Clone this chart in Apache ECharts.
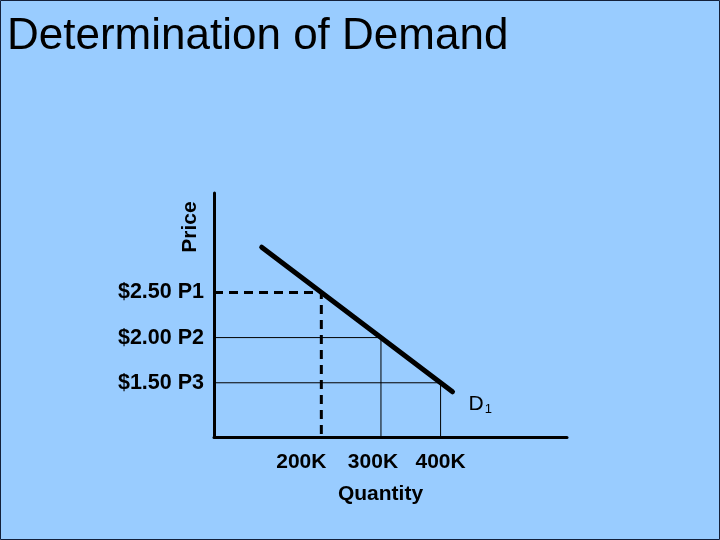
<!DOCTYPE html>
<html>
<head>
<meta charset="utf-8">
<script src="https://cdn.jsdelivr.net/npm/echarts@6/dist/echarts.min.js"></script>
<style>
    html, body { margin: 0; padding: 0; }
    #chart { width: 720px; height: 540px; }
</style>
</head>
<body>
<div id="chart"></div>
<script>
// values (quantity in K, price in $)
const priceTicks = [1.5, 2.0, 2.5];
const priceLabels = ['$1.50 P3', '$2.00 P2', '$2.50 P1'];
const qtyTicks = [200, 300, 400];
const qtyLabels = ['200K', '300K', '400K'];
const demand = [[100, 3.0], [420, 1.4]];
const guideP1 = [[20, 2.5], [200, 2.5], [200, 0.9]];
const guideP2 = [[20, 2.0], [300, 2.0], [300, 0.9]];
const guideP3 = [[20, 1.5], [400, 1.5], [400, 0.9]];

const font = 'Liberation Sans, Arial, sans-serif';
// shift some x labels left (as in the slide)
const qtyPad = { 200: 40, 300: 16, 400: 0 };

let chart = echarts.init(document.getElementById('chart'));
chart.setOption({
    animation: false,
    backgroundColor: '#99ccff',
    title: {
        text: 'Determination of Demand',
        left: 2,
        top: 10,
        textStyle: { fontFamily: font, fontSize: 44, fontWeight: 'normal', color: '#000' }
    },
    grid: { left: 214, top: 193, right: 153, bottom: 103 },
    xAxis: {
        type: 'value',
        min: 20,
        max: 612,
        splitLine: { show: false },
        axisTick: { show: false },
        axisLine: { lineStyle: { color: '#000', width: 3 } },
        axisLabel: {
            customValues: qtyTicks,
            margin: 15,
            color: '#000',
            fontFamily: font,
            fontSize: 21,
            fontWeight: 'bold',
            formatter: function (v) {
                let i = qtyTicks.indexOf(v);
                return '{p' + v + '|' + qtyLabels[i] + '}';
            },
            rich: {
                p200: { padding: [0, qtyPad[200], 0, 0], fontFamily: font, fontSize: 21, fontWeight: 'bold' },
                p300: { padding: [0, qtyPad[300], 0, 0], fontFamily: font, fontSize: 21, fontWeight: 'bold' },
                p400: { padding: [0, qtyPad[400], 0, 0], fontFamily: font, fontSize: 21, fontWeight: 'bold' }
            }
        },
        name: 'Quantity',
        nameLocation: 'middle',
        nameGap: 47,
        nameTextStyle: { color: '#000', fontFamily: font, fontSize: 21, fontWeight: 'bold', padding: [0, 20, 0, 0] }
    },
    yAxis: {
        type: 'value',
        min: 0.9,
        max: 3.6,
        splitLine: { show: false },
        axisTick: { show: false },
        axisLine: { lineStyle: { color: '#000', width: 3 } },
        axisLabel: {
            customValues: priceTicks,
            margin: 10,
            color: '#000',
            fontFamily: font,
            fontSize: 21.5,
            fontWeight: 'bold',
            formatter: function (v) {
                return priceLabels[priceTicks.indexOf(v)];
            }
        }
    },
    graphic: [
        {
            type: 'text',
            x: 190,
            y: 227,
            rotation: Math.PI / 2,
            style: {
                text: 'Price',
                font: 'bold 21px ' + font,
                fill: '#000',
                align: 'center',
                verticalAlign: 'middle'
            }
        },
        {
            type: 'rect',
            shape: { x: 0.5, y: 0.5, width: 719, height: 539 },
            style: { fill: 'none', stroke: '#13203a', lineWidth: 1 },
            z: 100
        }
    ],
    series: [
        {
            type: 'line',
            data: guideP2,
            symbol: 'none',
            lineStyle: { color: '#000', width: 1 }
        },
        {
            type: 'line',
            data: guideP3,
            symbol: 'none',
            lineStyle: { color: '#000', width: 1 }
        },
        {
            type: 'line',
            data: guideP1,
            symbol: 'none',
            lineStyle: { color: '#000', width: 3, type: [9, 6] }
        },
        {
            type: 'line',
            data: demand,
            symbol: 'none',
            lineStyle: { color: '#000', width: 5, cap: 'round' },
            endLabel: {
                show: true,
                offset: [8, 12],
                formatter: '{d|D}{s|1}',
                rich: {
                    d: { fontFamily: font, fontSize: 21, color: '#000' },
                    s: { fontFamily: font, fontSize: 13, color: '#000', padding: [12, 0, 0, 1] }
                }
            }
        }
    ]
});
</script>
</body>
</html>
